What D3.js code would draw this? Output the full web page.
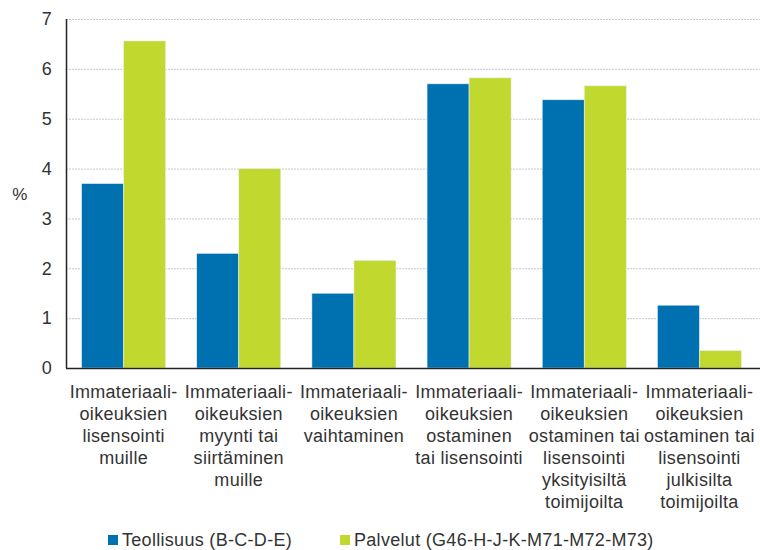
<!DOCTYPE html>
<html>
<head>
<meta charset="UTF-8">
<style>
    body { margin: 0; background: #fff; }
    text { font-family: "Liberation Sans", Arial, sans-serif; fill: #333; letter-spacing: 0.3px; }
    .grid line { stroke: #c8c8c8; stroke-dasharray: 2,1; }
</style>
</head>
<body>
<svg id="chart" width="760" height="550"></svg>
<script src="https://d3js.org/d3.v7.min.js"></script>
<script>
    // Kategoriat (rivitettyinä kuten alkuperäisessä)
    var categories = [
        ["Immateriaali-", "oikeuksien", "lisensointi", "muille"],
        ["Immateriaali-", "oikeuksien", "myynti tai", "siirtäminen", "muille"],
        ["Immateriaali-", "oikeuksien", "vaihtaminen"],
        ["Immateriaali-", "oikeuksien", "ostaminen", "tai lisensointi"],
        ["Immateriaali-", "oikeuksien", "ostaminen tai", "lisensointi", "yksityisiltä", "toimijoilta"],
        ["Immateriaali-", "oikeuksien", "ostaminen tai", "lisensointi", "julkisilta", "toimijoilta"]
    ];
    var seriesNames = ["Teollisuus (B-C-D-E)", "Palvelut (G46-H-J-K-M71-M72-M73)"];
    var teollisuus = [3.7, 2.3, 1.5, 5.7, 5.38, 1.26];
    var palvelut = [6.56, 4.0, 2.16, 5.82, 5.66, 0.35];
    var yTicks = [0, 1, 2, 3, 4, 5, 6, 7];
    var colors = ["#0071b0", "#c1d82f"];

    var svg = d3.select("#chart");
    var plotLeft = 66, plotRight = 757, plotTop = 19, plotBottom = 368;

    var x = d3.scaleBand().domain(d3.range(categories.length))
        .range([plotLeft, plotRight]).paddingInner(0.27).paddingOuter(0.135);
    var x1 = d3.scaleBand().domain([0, 1]).range([0, x.bandwidth()]);
    var y = d3.scaleLinear().domain([0, 7]).range([plotBottom, plotTop]);

    // ruudukko
    svg.append("g").attr("class", "grid")
        .selectAll("line").data(yTicks.slice(1)).enter()
        .append("line")
        .attr("x1", plotLeft).attr("x2", 760)
        .attr("y1", function (d) { return y(d) + 0.5; })
        .attr("y2", function (d) { return y(d) + 0.5; });

    // pylväät
    var series = [teollisuus, palvelut];
    series.forEach(function (vals, s) {
        svg.append("g").selectAll("rect").data(vals).enter()
            .append("rect")
            .attr("x", function (d, i) { return x(i) + x1(s); })
            .attr("y", function (d) { return y(d); })
            .attr("width", x1.bandwidth())
            .attr("height", function (d) { return plotBottom - y(d); })
            .attr("fill", colors[s])
            .attr("stroke", "#e8f0f4")
            .attr("stroke-width", 0.6);
    });

    // akselit
    svg.append("line").attr("x1", plotLeft + 0.5).attr("x2", plotLeft + 0.5)
        .attr("y1", plotTop).attr("y2", plotBottom).attr("stroke", "#222").attr("stroke-width", 1.5);
    svg.append("line").attr("x1", plotLeft).attr("x2", 760)
        .attr("y1", plotBottom + 0.5).attr("y2", plotBottom + 0.5).attr("stroke", "#222").attr("stroke-width", 1.5);

    // y-akselin luvut
    svg.append("g").selectAll("text").data(yTicks).enter()
        .append("text")
        .attr("x", 52)
        .attr("y", function (d) { return y(d); })
        .attr("dy", "0.35em")
        .attr("text-anchor", "end")
        .style("font-size", "18px")
        .text(function (d) { return d; });

    svg.append("text").attr("x", 20).attr("y", 194).attr("dy", "0.35em")
        .attr("text-anchor", "middle").style("font-size", "17px").text("%");

    // kategorioiden nimet
    var labels = svg.append("g").selectAll("text").data(categories).enter()
        .append("text")
        .attr("text-anchor", "middle")
        .style("font-size", "18px")
        .attr("transform", function (d, i) {
            return "translate(" + (x(i) + x.bandwidth() / 2) + ",398)";
        });
    labels.selectAll("tspan").data(function (d) { return d; }).enter()
        .append("tspan")
        .attr("x", 0)
        .attr("y", function (d, j) { return j * 22; })
        .text(function (d) { return d; });

    // selite
    var legendX = [108, 340];
    seriesNames.forEach(function (name, s) {
        svg.append("rect").attr("x", legendX[s]).attr("y", 535)
            .attr("width", 10).attr("height", 10).attr("fill", colors[s]);
        svg.append("text").attr("x", legendX[s] + 14).attr("y", 540)
            .attr("dy", "0.35em").style("font-size", "18px").text(name);
    });
</script>
</body>
</html>
